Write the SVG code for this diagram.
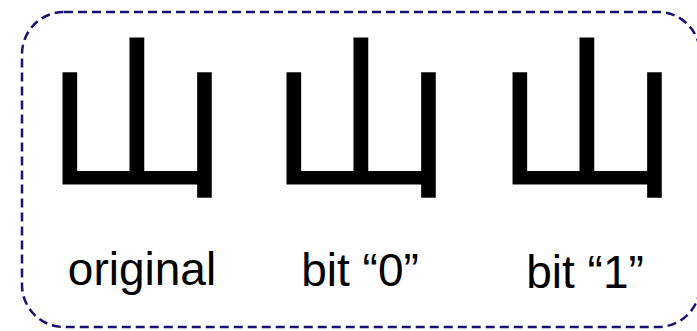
<svg xmlns="http://www.w3.org/2000/svg" width="697" height="331" viewBox="0 0 697 331">
<style>
.frame{fill:none;stroke:#1a1273;stroke-width:2.5;stroke-dasharray:9 5}
.glyph{font-family:"Noto Sans CJK SC","Noto Sans CJK JP",sans-serif;font-weight:normal;font-size:176px;fill:#000;text-anchor:middle}
.lbl{font-family:"Liberation Sans",Arial,sans-serif;font-size:46px;fill:#000;text-anchor:middle}
</style>
<rect class="frame" x="22" y="12" width="678" height="315" rx="42" ry="42"/>
<g id="original">
<text class="glyph" transform="translate(137,184) scale(1.08,1)">山</text>
<text class="lbl" x="142" y="285">original</text>
</g>
<g id="bit0">
<text class="glyph" transform="translate(361,184) scale(1.08,1)">山</text>
<text class="lbl" x="360" y="286">bit “0”</text>
</g>
<g id="bit1">
<text class="glyph" transform="translate(587,184) scale(1.08,1)">山</text>
<text class="lbl" x="585" y="288">bit “1”</text>
</g>
</svg>
